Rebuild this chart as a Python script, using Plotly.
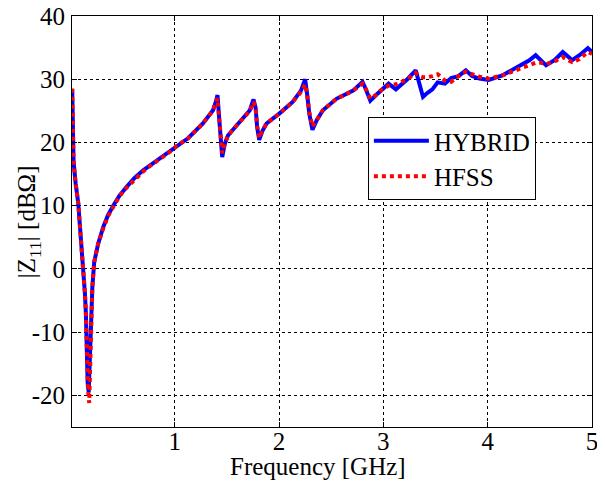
import plotly.graph_objects as go

# HYBRID curve
hyb_x = [0.017, 0.02, 0.03, 0.05, 0.075, 0.09, 0.107, 0.12, 0.139, 0.148, 0.155, 0.165, 0.175,
         0.185, 0.196, 0.21, 0.228, 0.266, 0.314, 0.36, 0.41, 0.47, 0.535, 0.61, 0.697, 0.78,
         0.856, 0.93, 1.0, 1.13, 1.27, 1.367, 1.395, 1.41, 1.425, 1.44, 1.455, 1.48, 1.51,
         1.62, 1.72, 1.755, 1.775, 1.79, 1.81, 1.84, 1.88, 2.005, 2.13, 2.21, 2.235, 2.25,
         2.27, 2.29, 2.32, 2.36, 2.42, 2.55, 2.71, 2.80, 2.83, 2.875, 2.93, 2.98, 3.05, 3.12,
         3.23, 3.31, 3.345, 3.38, 3.42, 3.47, 3.52, 3.59, 3.65, 3.72, 3.79, 3.85, 3.92, 4.01,
         4.14, 4.30, 4.40, 4.46, 4.51, 4.56, 4.64, 4.72, 4.77, 4.81, 4.88, 4.96, 5.0]
hyb_y = [28.5, 24.0, 17.0, 13.5, 10.4, 7.0, 3.5, 0.1, -3.9, -7.0, -13.0, -18.0, -19.5,
         -14.0, -7.1, -2.9, 1.1, 4.0, 6.6, 8.5, 10.0, 11.6, 12.9, 14.3, 15.6, 16.6,
         17.4, 18.3, 19.2, 20.7, 23.0, 25.1, 26.5, 27.5, 24.0, 19.5, 17.7, 19.8, 21.1,
         23.2, 25.1, 26.8, 25.5, 22.4, 20.4, 21.8, 23.0, 24.6, 26.4, 28.2, 29.6, 30.0,
         27.5, 24.5, 22.0, 23.5, 25.1, 26.9, 28.2, 29.6, 28.5, 26.6, 27.5, 28.3, 29.3, 28.4,
         30.0, 31.4, 29.5, 27.2, 27.8, 28.4, 29.5, 29.3, 30.2, 30.5, 31.4, 30.5, 30.1, 29.9,
         30.6, 32.0, 33.0, 33.8, 33.0, 32.2, 33.0, 34.3, 33.6, 33.0, 33.8, 34.9, 34.3]

# HFSS curve
hfss_x = [0.017, 0.02, 0.03, 0.05, 0.075, 0.09, 0.107, 0.12, 0.139, 0.148, 0.158, 0.168, 0.18,
          0.19, 0.198, 0.21, 0.228, 0.266, 0.314, 0.36, 0.41, 0.47, 0.535, 0.61, 0.697, 0.78,
          0.856, 0.93, 1.0, 1.13, 1.27, 1.367, 1.395, 1.41, 1.425, 1.44, 1.455, 1.48, 1.51,
          1.62, 1.72, 1.755, 1.775, 1.79, 1.81, 1.84, 1.88, 2.005, 2.13, 2.21, 2.235, 2.25,
          2.27, 2.29, 2.32, 2.36, 2.42, 2.55, 2.71, 2.80, 2.83, 2.875, 2.93, 2.98, 3.05, 3.12,
          3.23, 3.31, 3.345, 3.38, 3.42, 3.47, 3.52, 3.59, 3.65, 3.72, 3.79, 3.85, 3.92, 4.01,
          4.14, 4.30, 4.40, 4.46, 4.51, 4.56, 4.64, 4.72, 4.77, 4.81, 4.88, 4.96, 5.0]
hfss_y = [28.5, 24.0, 17.0, 13.5, 10.4, 7.0, 3.5, 0.1, -3.9, -7.0, -13.5, -19.0, -21.2,
          -15.0, -7.5, -2.9, 1.1, 4.0, 6.4, 8.3, 9.8, 11.5, 12.8, 14.1, 15.4, 16.5,
          17.3, 18.2, 19.2, 20.7, 23.0, 25.1, 26.3, 27.0, 24.0, 20.0, 18.3, 19.8, 21.1,
          23.2, 25.0, 26.4, 25.5, 22.6, 20.7, 21.8, 23.0, 24.6, 26.4, 28.0, 29.0, 29.2,
          27.5, 24.8, 22.5, 23.5, 25.1, 26.9, 28.2, 29.3, 28.5, 26.9, 27.5, 28.3, 29.0, 29.2,
          30.0, 31.0, 30.5, 30.3, 30.3, 30.5, 30.8, 29.8, 29.6, 30.5, 31.2, 30.8, 30.4, 30.1,
          30.6, 31.6, 32.2, 32.6, 32.6, 32.4, 32.8, 33.5, 33.0, 32.7, 33.2, 34.3, 34.0]

x_ticks = [1, 2, 3, 4, 5]
y_ticks = [-20, -10, 0, 10, 20, 30, 40]

FONT = "Liberation Serif, Times New Roman, serif"

fig = go.Figure()
fig.add_trace(go.Scatter(x=hyb_x, y=hyb_y, mode="lines", name="HYBRID",
                         line=dict(color="#0000FF", width=4)))
fig.add_trace(go.Scatter(x=hfss_x, y=hfss_y, mode="lines", name="HFSS",
                         line=dict(color="#FF0000", width=4, dash="dot")))

axis_common = dict(
    showline=True, linecolor="black", linewidth=1, mirror="ticks",
    ticks="inside", ticklen=5, tickcolor="black",
    showgrid=True, gridcolor="black", gridwidth=1, griddash="3px,3px",
    zeroline=False, automargin=False, ticklabeloverflow="allow",
    tickfont=dict(family=FONT, size=25, color="black"),
)

fig.update_xaxes(range=[0.015, 5], tickvals=x_ticks, ticktext=[str(v) for v in x_ticks],
                 ticklabelstandoff=-8, **axis_common)
fig.update_yaxes(range=[-25, 40], tickvals=y_ticks, ticktext=[str(v) for v in y_ticks],
                 ticklabelstandoff=1, **axis_common)

fig.add_annotation(text="Frequency [GHz]", xref="paper", yref="paper",
                   x=0.473, y=-0.097, xanchor="center", yanchor="middle",
                   showarrow=False, font=dict(family=FONT, size=25, color="black"))
fig.add_annotation(text="|Z<sub>11</sub>| [dBΩ]", xref="paper", yref="paper",
                   x=-0.083, y=0.5, xanchor="center", yanchor="middle", textangle=-90,
                   showarrow=False, font=dict(family=FONT, size=25, color="black"))

# the page adds an 8 px body margin, so the figure is sized and offset to compensate
fig.update_layout(
    width=597, height=475,
    margin=dict(l=64, r=13, t=8, b=56, autoexpand=False),
    paper_bgcolor="white", plot_bgcolor="white",
    font=dict(family=FONT, size=25, color="black"),
    showlegend=True,
    legend=dict(x=0.569, y=0.754, xanchor="left", yanchor="top",
                bgcolor="white", bordercolor="black", borderwidth=1,
                font=dict(family=FONT, size=25, color="black"),
                tracegroupgap=0, itemwidth=55),
)

fig.write_html("out.html")
